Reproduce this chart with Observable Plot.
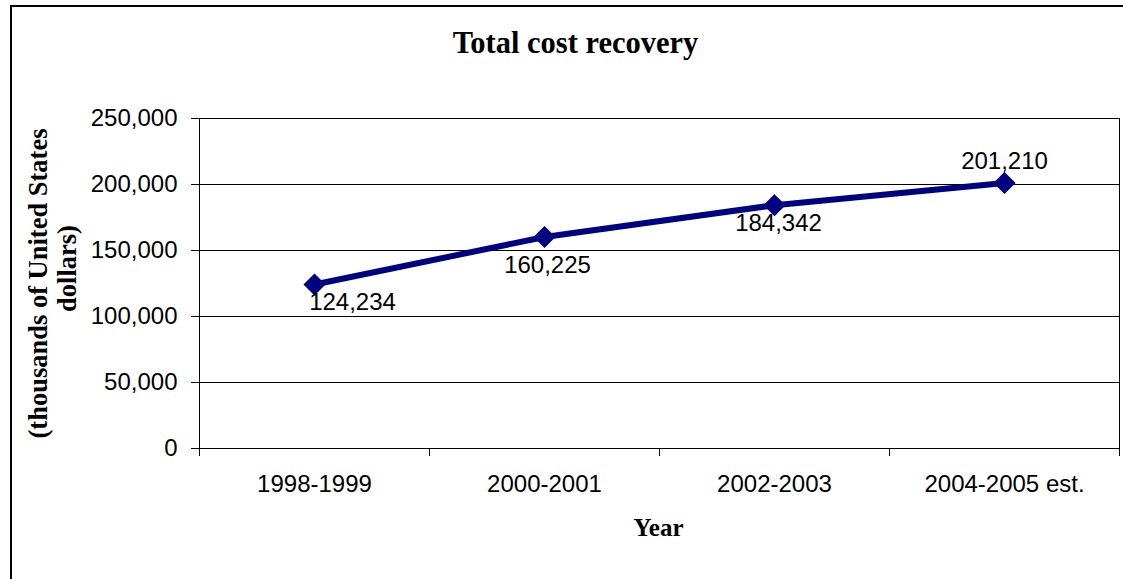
<!DOCTYPE html>
<html><head><meta charset="utf-8">
<script src="https://cdn.jsdelivr.net/npm/d3@7"></script>
<script src="https://cdn.jsdelivr.net/npm/@observablehq/plot@0.6"></script>
<style>
html,body{margin:0;padding:0;background:#fff;}
#wrap{position:relative;width:1123px;height:579px;overflow:hidden;background:#fff;}
#chart{position:absolute;left:0;top:0;}
#border{position:absolute;left:10px;top:5px;width:1400px;height:900px;border-left:2px solid #000;border-top:2px solid #000;pointer-events:none;}
</style></head><body>
<div id="wrap"><div id="chart"></div><div id="border"></div></div>
<script>
const years = ["1998-1999", "2000-2001", "2002-2003", "2004-2005 est."];
const costRecovery = [124234, 160225, 184342, 201210];
const yTicks = [0, 50000, 100000, 150000, 200000, 250000];
const title = "Total cost recovery";
const yTitleLines = ["(thousands of United States", "dollars)"];
const xTitle = "Year";

const data = years.map((year, i) => ({year, value: costRecovery[i], i}));
const fmt = d3.format(",");
const serif = "'Liberation Serif', 'Times New Roman', serif";
const navy = "#000080";
const pick = (k) => data.filter(d => d.i === k);
const lbl = {x: "year", y: "value", text: d => fmt(d.value), fontSize: 24, fill: "#000"};

const plot = Plot.plot({
  width: 1123, height: 579,
  marginLeft: 199, marginRight: 4, marginTop: 118, marginBottom: 131,
  style: {fontFamily: "'Liberation Sans', Arial, sans-serif", fontSize: "24px", color: "#000", background: "transparent"},
  x: {type: "point", domain: years, padding: 0.5, label: null},
  y: {domain: [0, 250000], label: null},
  marks: [
    Plot.ruleY(yTicks, {stroke: "#000", strokeWidth: 1}),
    Plot.frame({stroke: "#000", strokeWidth: 1}),
    Plot.ruleX(years, {x: d => d, y1: 0, y2: 0, insetBottom: -8, dx: -115, stroke: "#000"}),
    Plot.ruleX([years[years.length - 1]], {x: d => d, y1: 0, y2: 0, insetBottom: -8, dx: 115, stroke: "#000"}),
    Plot.axisY({ticks: yTicks, tickFormat: fmt, tickSize: 8, tickPadding: 14, fontSize: 24, label: null, stroke: "#000"}),
    Plot.axisX({tickSize: 0, tickPadding: 26, fontSize: 24, label: null}),
    Plot.line(data, {x: "year", y: "value", stroke: navy, strokeWidth: 6}),
    Plot.dot(data, {x: "year", y: "value", symbol: "diamond2", r: 9, fill: navy, stroke: navy}),
    Plot.text(pick(0), {...lbl, dx: 38, dy: 18}),
    Plot.text(pick(1), {...lbl, dx: 3, dy: 28}),
    Plot.text(pick(2), {...lbl, dx: 4, dy: 18}),
    Plot.text(pick(3), {...lbl, dx: 0, dy: -22}),
    Plot.text([title], {frameAnchor: "top", lineAnchor: "middle", dx: -84, dy: -75, fontFamily: serif, fontWeight: "bold", fontSize: 30.5, fill: "#000"}),
    Plot.text([xTitle], {frameAnchor: "bottom", lineAnchor: "middle", dx: -1, dy: 79, fontFamily: serif, fontWeight: "bold", fontSize: 25, fill: "#000"}),
    Plot.text([yTitleLines[0]], {frameAnchor: "left", lineAnchor: "middle", textAnchor: "middle", rotate: -90, dx: -161, dy: 0, fontFamily: serif, fontWeight: "bold", fontSize: 26.5, fill: "#000"}),
    Plot.text([yTitleLines[1]], {frameAnchor: "left", lineAnchor: "middle", textAnchor: "middle", rotate: -90, dx: -132, dy: -15, fontFamily: serif, fontWeight: "bold", fontSize: 26.5, fill: "#000"})
  ]
});
document.getElementById("chart").appendChild(plot);
</script>
</body></html>
